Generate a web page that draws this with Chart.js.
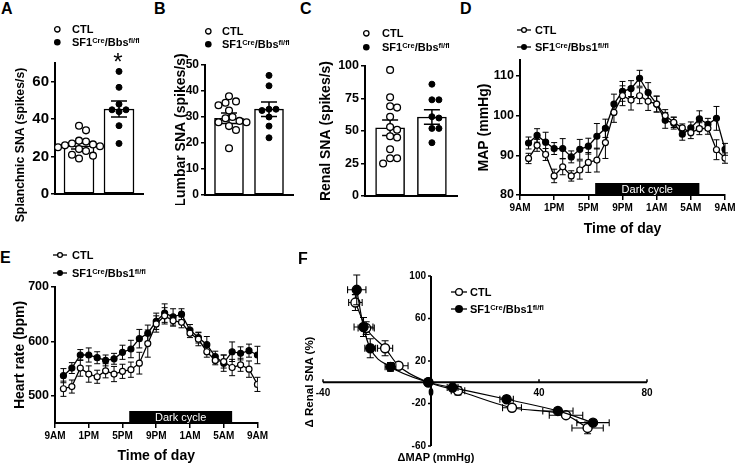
<!DOCTYPE html>
<html>
<head>
<meta charset="utf-8">
<script src="https://cdn.jsdelivr.net/npm/chart.js@4.4.0/dist/chart.umd.min.js"></script>
<style>
  body { margin: 0; background: #fff; }
  #fig { position: relative; width: 740px; height: 469px; overflow: hidden; background: #fff;
         font-family: "Liberation Sans", Arial, sans-serif; font-weight: bold; color: #000; }
  #fig canvas { position: absolute; }
  .pl { position: absolute; font-size: 16px; line-height: 1; }
  .yt { position: absolute; white-space: nowrap; line-height: 1; transform: translate(-50%, -50%) rotate(-90deg); }
  .xt { position: absolute; white-space: nowrap; line-height: 1; transform: translate(-50%, -50%); }
  .leg { position: absolute; white-space: nowrap; height: 14px; line-height: 14px; }
  .leg sup { font-size: 0.68em; vertical-align: 0; position: relative; top: -0.45em; }
  .sym { position: absolute; }
</style>
</head>
<body>
<div id="fig">
  <canvas id="cA" width="160" height="165" style="left:0px;top:40px"></canvas>
  <canvas id="cB" width="150" height="165" style="left:160px;top:40px"></canvas>
  <canvas id="cC" width="160" height="166" style="left:310px;top:40px"></canvas>
  <canvas id="cD" width="270" height="200" style="left:470px;top:40px"></canvas>
  <canvas id="cE" width="270" height="199" style="left:0px;top:270px"></canvas>
  <canvas id="cF" width="400" height="214" style="left:300px;top:255px"></canvas>

  <div class="pl" style="left:1px;top:1px">A</div>
  <div class="pl" style="left:154px;top:1px">B</div>
  <div class="pl" style="left:300px;top:1px">C</div>
  <div class="pl" style="left:460px;top:1px">D</div>
  <div class="pl" style="left:0px;top:250px">E</div>
  <div class="pl" style="left:298px;top:251px">F</div>

  <div class="yt" style="left:20px;top:145px;font-size:12.3px">Splanchnic SNA (spikes/s)</div>
  <div style="position:absolute;left:108px;top:50px;width:20px;text-align:center;font-size:24px;line-height:1;font-weight:normal">*</div>

  <div class="yt" style="left:310px;top:382px;font-size:11.5px">&Delta; Renal SNA (%)</div>
  <div class="xt" style="left:436px;top:457px;font-size:11px">&Delta;MAP (mmHg)</div>
</div>

<script>
// ---------- data ----------
const groupNames = ['CTL', 'SF1<sup>Cre</sup>/Bbs<sup>fl/fl</sup>'];
const lineNames = ['CTL', 'SF1<sup>Cre</sup>/Bbs1<sup>fl/fl</sup>'];

// A - splanchnic SNA (spikes/s)
const splanchnicCtl = [36.5, 34, 28.5, 28, 27, 26.5, 26, 25.5, 25, 24, 23, 21, 20.5, 19];
const splanchnicKo = [65.5, 57, 48, 45, 45, 44, 36.5, 27];
const splanchnicMean = [25.7, 45.4];
const splanchnicSem = [1.6, 4.3];
const splanchnicTicks = [0, 20, 40, 60];

// B - lumbar SNA (spikes/s)
const lumbarCtl = [38, 36, 35.5, 34.5, 32.5, 30, 29.5, 28.5, 28, 28, 26.5, 25, 18];
const lumbarKo = [46, 42, 33, 33, 32.5, 30, 26.5, 22];
const lumbarMean = [29.5, 33];
const lumbarSem = [2, 2.8];
const lumbarTicks = [0, 10, 20, 30, 40, 50];

// C - renal SNA (spikes/s)
const renalCtl = [97, 76, 69, 68, 61, 53, 51, 46, 45, 36, 29, 29, 25];
const renalKo = [86, 74, 74, 61, 60, 52, 52, 41];
const renalMean = [52.5, 60.8];
const renalSem = [6, 5.6];
const renalTicks = [0, 25, 50, 75, 100];

// D, E - hourly values, hours after 9AM
const hours = [1, 2, 3, 4, 5, 6, 7, 8, 9, 10, 11, 12, 13, 14, 15, 16, 17, 18, 19, 20, 21, 22, 23, 24];
const timeTicks = [0, 4, 8, 12, 16, 20, 24];
const timeLabels = ['9AM', '1PM', '5PM', '9PM', '1AM', '5AM', '9AM'];
const darkCycle = [8.8, 21];

const mapTicks = [80, 90, 100, 110];
const mapCtl = [89.2, 92.5, 90.2, 84.8, 87.1, 84.8, 86.3, 88.2, 88.8, 93.2, 100.8, 105, 103.9, 105, 103.6, 102.9, 100, 98.3, 96.9, 95.7, 96.7, 96.8, 91.4, 89.3];
const mapCtlSem = [1.3, 1.5, 1.5, 1.7, 2, 1.3, 2.3, 2.5, 3, 4, 2.5, 2.5, 2.5, 2, 2.3, 2, 1.5, 1.3, 1, 1.5, 1.5, 1.5, 2.5, 1.3];
const mapKo = [93.1, 95, 93.3, 91.7, 91.7, 89.6, 91.5, 92.3, 94.8, 96.8, 102.9, 106.1, 106.8, 109.4, 105.8, 102.9, 98.8, 98.1, 95.3, 96.9, 99.2, 97.8, 99.3, 91.5];
const mapKoSem = [1.5, 1.7, 2.5, 1.5, 2.5, 1.5, 2.5, 2, 3.2, 2.3, 2.5, 2.5, 2, 2, 2.5, 2, 2, 1.5, 1.5, 1.5, 2, 1.5, 3, 1.5];

const hrTicks = [500, 600, 700];
const hrCtl = [513, 517, 551, 540, 535, 546, 540, 545, 548, 560, 596, 632, 647, 638, 635, 615, 604, 581, 565, 563, 552, 557, 549, 521];
const hrCtlSem = [14, 12, 15, 15, 12, 13, 14, 13, 14, 20, 25, 15, 15, 10, 10, 8, 12, 10, 8, 12, 15, 12, 15, 13];
const hrKo = [537, 551, 575, 575, 570, 565, 568, 580, 586, 605, 615, 637, 652, 645, 650, 621, 607, 594, 572, 560, 581, 578, 583, 575];
const hrKoSem = [13, 10, 10, 13, 11, 10, 10, 13, 16, 17, 15, 15, 17, 15, 10, 10, 10, 15, 10, 15, 18, 12, 12, 16];

// F - baroreflex curve
const dmapTicks = [-40, 0, 40, 80];
const drsnaTicks = [-60, -20, 20, 60, 100];
const ctlDmap = [-28, -24, -17, -12, -1, 10, 30, 50, 58];
const ctlDmapSem = [2.5, 3, 2.8, 3.5, 1, 2.5, 3.5, 6.2, 5.8];
const ctlDrsna = [75, 51, 32, 15.5, 0, -8, -24, -31, -43];
const ctlDrsnaSem = [7.5, 6, 7, 3, 2, 4, 3, 2, 5.5];
const koDmap = [-27.5, -25, -22.5, -15, -1, 8, 28, 47, 60];
const koDmapSem = [3.4, 3.5, 2, 2, 1, 2, 2.5, 5.6, 6];
const koDrsna = [87, 52, 32, 14.5, 0, -5, -16, -27, -38];
const koDrsnaSem = [14, 9, 9, 4, 2, 3, 3, 2, 3];

// ---------- helpers ----------
const FONT = '"Liberation Sans", Arial, sans-serif';
Chart.defaults.font.family = FONT;
Chart.defaults.font.weight = 'bold';
Chart.defaults.color = '#000';
Chart.defaults.animation = false;
Chart.defaults.plugins.legend.display = false;
Chart.defaults.plugins.tooltip.enabled = false;

function drawErr(chart, i) {
  const ds = chart.data.datasets[i];
  if (!ds.errY && !ds.errX) return;
  const meta = chart.getDatasetMeta(i);
  const xs = chart.scales[meta.xAxisID], ys = chart.scales[meta.yAxisID];
  const c = chart.ctx, cap = ds.errCap || 3;
  c.save();
  c.strokeStyle = '#000';
  c.lineWidth = ds.errWidth || 1;
  c.beginPath();
  ds.data.forEach((d, j) => {
    const px = xs.getPixelForValue(d.x), py = ys.getPixelForValue(d.y);
    if (ds.errY) {
      const t = ys.getPixelForValue(d.y + ds.errY[j]), b = ys.getPixelForValue(d.y - ds.errY[j]);
      c.moveTo(px, t); c.lineTo(px, b);
      c.moveTo(px - cap, t); c.lineTo(px + cap, t);
      c.moveTo(px - cap, b); c.lineTo(px + cap, b);
    }
    if (ds.errX) {
      const l = xs.getPixelForValue(d.x - ds.errX[j]), r = xs.getPixelForValue(d.x + ds.errX[j]);
      c.moveTo(l, py); c.lineTo(r, py);
      c.moveTo(l, py - cap); c.lineTo(l, py + cap);
      c.moveTo(r, py - cap); c.lineTo(r, py + cap);
    }
  });
  c.stroke();
  c.restore();
}

const errorBars = {
  id: 'errorBars',
  beforeDatasetDraw(chart, args) {
    if (chart.data.datasets[args.index].type !== 'bar') drawErr(chart, args.index);
  },
  afterDatasetDraw(chart, args) {
    if (chart.data.datasets[args.index].type === 'bar') drawErr(chart, args.index);
  }
};

const darkBar = {
  id: 'darkBar',
  beforeDatasetsDraw(chart, args, o) {
    if (!o.range) return;
    const xs = chart.scales.x, ys = chart.scales.y, c = chart.ctx;
    const x0 = xs.getPixelForValue(o.range[0]), x1 = xs.getPixelForValue(o.range[1]);
    const h = 12, yb = ys.bottom;
    c.save();
    c.fillStyle = '#000';
    c.fillRect(x0, yb - h, x1 - x0, h);
    c.fillStyle = '#fff';
    c.font = '11px ' + FONT;
    c.textAlign = 'center';
    c.textBaseline = 'middle';
    c.fillText(o.label, (x0 + x1) / 2, yb - h / 2 + 0.5);
    c.restore();
  }
};

// axes crossing at the origin (panel F): lines and ticks under the data, labels on top
const crossAxes = {
  id: 'crossAxes',
  beforeDatasetsDraw(chart, args, o) {
    const xs = chart.scales.x, ys = chart.scales.y, c = chart.ctx;
    const x0 = xs.getPixelForValue(0), y0 = ys.getPixelForValue(0);
    c.save();
    c.strokeStyle = '#000';
    c.lineWidth = 2;
    c.beginPath();
    c.moveTo(xs.left, y0); c.lineTo(xs.right, y0);
    c.moveTo(x0, ys.top); c.lineTo(x0, ys.bottom);
    c.stroke();
    c.lineWidth = 1.5;
    c.beginPath();
    o.xTicks.forEach(v => { const p = xs.getPixelForValue(v); c.moveTo(p, y0); c.lineTo(p, y0 - 3); });
    o.yTicks.forEach(v => { const p = ys.getPixelForValue(v); c.moveTo(x0, p); c.lineTo(x0 - 3, p); });
    c.stroke();
    c.restore();
  },
  afterDraw(chart, args, o) {
    const xs = chart.scales.x, ys = chart.scales.y, c = chart.ctx;
    const x0 = xs.getPixelForValue(0), y0 = ys.getPixelForValue(0);
    c.save();
    c.fillStyle = '#000';
    c.font = 'bold 10px ' + FONT;
    c.textAlign = 'center';
    c.textBaseline = 'top';
    o.xTicks.forEach(v => c.fillText(String(v), xs.getPixelForValue(v), y0 + 6));
    c.textAlign = 'right';
    c.textBaseline = 'middle';
    o.yTicks.forEach(v => c.fillText(String(v), x0 - 5, ys.getPixelForValue(v)));
    c.restore();
  }
};

// simple dot-plot spreading so points do not overlap
function swarm(values, center, pxPerX, pxPerY) {
  const diam = 7, step = 3.5, placed = [];
  values.forEach(v => {
    let k = 0, off = 0;
    while (true) {
      off = k === 0 ? 0 : (k % 2 ? 1 : -1) * Math.ceil(k / 2) * step;
      const hit = placed.some(p => Math.hypot(off - p.off, (v - p.v) * pxPerY) < diam);
      if (!hit) break;
      k++;
    }
    placed.push({ v, off });
  });
  return placed.map(p => ({ x: center + p.off / pxPerX, y: p.v }));
}

const fixTicks = vals => s => { s.ticks = vals.map(v => ({ value: v })); };

function axisLines(tickLength) {
  return {
    border: { display: true, color: '#000', width: 2 },
    grid: { display: true, drawOnChartArea: false, drawTicks: true, tickLength: tickLength, color: '#000', lineWidth: 1.5 }
  };
}

function barPanel(id, ctl, ko, means, sems, ticks, g) {
  const pxPerX = g.plotW / 2.2, pxPerY = g.plotH / g.max;
  new Chart(document.getElementById(id), {
    type: 'bar',
    data: {
      datasets: [
        { type: 'scatter', data: swarm(ctl, 0, pxPerX, pxPerY), pointRadius: 3.4, pointBorderWidth: 1.3,
          pointBackgroundColor: '#fff', pointBorderColor: '#000', order: 0 },
        { type: 'scatter', data: swarm(ko, 1, pxPerX, pxPerY), pointRadius: 3, pointBorderWidth: 1,
          pointBackgroundColor: '#000', pointBorderColor: '#000', order: 1 },
        { type: 'bar', data: means.map((m, i) => ({ x: i, y: m })), errY: sems, errCap: 8, errWidth: 1.5,
          backgroundColor: '#fff', borderColor: '#000', borderWidth: 1.5, borderSkipped: false,
          barThickness: g.barW, order: 2 }
      ]
    },
    options: {
      responsive: false,
      maintainAspectRatio: false,
      layout: { autoPadding: false, padding: g.pad },
      scales: {
        x: { type: 'linear', min: -0.6, max: 1.6, offset: false,
             border: { display: true, color: '#000', width: 2 },
             grid: { display: false }, ticks: { display: false },
             afterFit: s => { s.height = g.xH; } },
        y: Object.assign(axisLines(4), {
             min: 0, max: g.max, bounds: 'data',
             afterBuildTicks: fixTicks(ticks),
             ticks: { autoSkip: false, padding: 2, font: { size: g.tick } },
             title: g.title ? { display: true, text: g.title, font: { size: 14 }, padding: { top: g.titlePad, bottom: 0 } } : { display: false },
             afterFit: s => { s.width = g.yW; } })
      }
    },
    plugins: [errorBars]
  });
}

function linePanel(id, ctl, ctlSem, ko, koSem, ticks, g) {
  const pts = arr => hours.map((h, i) => ({ x: h, y: arr[i] }));
  const style = fill => ({ borderColor: '#000', borderWidth: 1.3, pointRadius: 3, pointBorderWidth: 1.2,
    pointBorderColor: '#000', pointBackgroundColor: fill, errCap: 3, errWidth: 1 });
  new Chart(document.getElementById(id), {
    type: 'line',
    data: {
      datasets: [
        Object.assign({ data: pts(ctl), errY: ctlSem, order: 0 }, style('#fff')),
        Object.assign({ data: pts(ko), errY: koSem, order: 1 }, style('#000'))
      ]
    },
    options: {
      responsive: false,
      maintainAspectRatio: false,
      layout: { autoPadding: false, padding: g.pad },
      scales: {
        x: Object.assign(axisLines(5), {
             type: 'linear', min: 0, max: 24, bounds: 'data',
             afterBuildTicks: fixTicks(timeTicks),
             ticks: { autoSkip: false, maxRotation: 0, padding: 2, font: { size: 10 },
                      callback: (v, i) => timeLabels[i] },
             title: { display: true, text: 'Time of day', font: { size: 14 }, padding: { top: 0, bottom: g.xTitlePad } },
             afterFit: s => { s.height = g.xH; } }),
        y: Object.assign(axisLines(4), {
             min: g.min, max: g.max, bounds: 'data',
             afterBuildTicks: fixTicks(ticks),
             ticks: { autoSkip: false, padding: 2, font: { size: 12.5 } },
             title: { display: true, text: g.title, font: { size: 14 }, padding: { top: g.titlePad, bottom: 0 } },
             afterFit: s => { s.width = g.yW; } })
      },
      plugins: { darkBar: { range: darkCycle, label: 'Dark cycle' } }
    },
    plugins: [errorBars, darkBar]
  });
}

// ---------- panels ----------
barPanel('cA', splanchnicCtl, splanchnicKo, splanchnicMean, splanchnicSem, splanchnicTicks,
  { max: 70, tick: 15, yW: 55, xH: 10, plotW: 88, plotH: 132, barW: 30,
    pad: { top: 23, right: 17, bottom: 0, left: 0 } });
barPanel('cB', lumbarCtl, lumbarKo, lumbarMean, lumbarSem, lumbarTicks,
  { max: 50, tick: 12, yW: 45, xH: 10, plotW: 88, plotH: 130, barW: 29,
    title: 'Lumbar SNA (spikes/s)', titlePad: 12.6, pad: { top: 25, right: 17, bottom: 0, left: 0 } });
barPanel('cC', renalCtl, renalKo, renalMean, renalSem, renalTicks,
  { max: 100, tick: 12.5, yW: 55, xH: 10, plotW: 92, plotH: 130, barW: 29,
    title: 'Renal SNA (spikes/s)', titlePad: 7.6, pad: { top: 26, right: 13, bottom: 0, left: 0 } });

linePanel('cD', mapCtl, mapCtlSem, mapKo, mapKoSem, mapTicks,
  { min: 80, max: 114, yW: 50, xH: 45, title: 'MAP (mmHg)', titlePad: 5.6, xTitlePad: 2.6,
    pad: { top: 20, right: 15, bottom: 0, left: 0 } });
linePanel('cE', hrCtl, hrCtlSem, hrKo, hrKoSem, hrTicks,
  { min: 450, max: 700, yW: 55, xH: 46, title: 'Heart rate (bpm)', titlePad: 11.6, xTitlePad: 4.6,
    pad: { top: 17, right: 10, bottom: 0, left: 0 } });

const fPts = (xs, ys) => xs.map((x, i) => ({ x: x, y: ys[i] }));
new Chart(document.getElementById('cF'), {
  type: 'scatter',
  data: {
    datasets: [
      { data: fPts(ctlDmap, ctlDrsna), errX: ctlDmapSem, errY: ctlDrsnaSem, showLine: true, fill: false,
        cubicInterpolationMode: 'monotone', borderColor: '#000', borderWidth: 1.2,
        pointRadius: 4.5, pointBorderWidth: 1.4, pointBorderColor: '#000', pointBackgroundColor: '#fff',
        errCap: 3.5, errWidth: 1.1, order: 1 },
      { data: fPts(koDmap, koDrsna), errX: koDmapSem, errY: koDrsnaSem, showLine: true, fill: false,
        cubicInterpolationMode: 'monotone', borderColor: '#000', borderWidth: 1.2,
        pointRadius: 4.5, pointBorderWidth: 1.4, pointBorderColor: '#000', pointBackgroundColor: '#000',
        errCap: 3.5, errWidth: 1.1, order: 0 }
    ]
  },
  options: {
    responsive: false,
    maintainAspectRatio: false,
    layout: { autoPadding: false, padding: { left: 23, right: 53, top: 21, bottom: 23 } },
    scales: {
      x: { type: 'linear', display: false, min: -40, max: 80, bounds: 'data' },
      y: { type: 'linear', display: false, min: -60, max: 100, bounds: 'data' }
    },
    plugins: { crossAxes: { xTicks: dmapTicks, yTicks: drsnaTicks } }
  },
  plugins: [crossAxes, errorBars]
});

// ---------- legends (html text) ----------
const fig = document.getElementById('fig');
function legend(cx, ys, textLeft, size, names, withLine, r, lineHalf) {
  names.forEach((name, i) => {
    const filled = i === 1;
    const w = 2 * (lineHalf || r) + 4, h = 2 * r + 4;
    const svg = document.createElementNS('http://www.w3.org/2000/svg', 'svg');
    svg.setAttribute('width', w); svg.setAttribute('height', h);
    svg.setAttribute('class', 'sym');
    svg.style.left = (cx - w / 2) + 'px';
    svg.style.top = (ys[i] - h / 2) + 'px';
    let inner = '';
    if (withLine) inner += `<line x1="2" y1="${h / 2}" x2="${w - 2}" y2="${h / 2}" stroke="#000" stroke-width="1.3"/>`;
    inner += `<circle cx="${w / 2}" cy="${h / 2}" r="${filled ? r : r - 0.6}" fill="${filled ? '#000' : '#fff'}" stroke="#000" stroke-width="${filled ? 0 : 1.3}"/>`;
    svg.innerHTML = inner;
    fig.appendChild(svg);
    const t = document.createElement('div');
    t.className = 'leg';
    t.style.left = textLeft + 'px';
    t.style.top = (ys[i] - 7) + 'px';
    t.style.fontSize = size + 'px';
    t.innerHTML = name;
    fig.appendChild(t);
  });
}
legend(57, [29, 42], 72, 11, groupNames, false, 3.3);
legend(208, [31, 44], 222, 11, groupNames, false, 3.3);
legend(366, [33, 47], 382, 11, groupNames, false, 3.3);
legend(523.5, [30, 47], 535, 11, lineNames, true, 3, 7);
legend(60, [255, 273], 72, 11, lineNames, true, 3, 7);
legend(459, [292, 309], 470, 11, lineNames, true, 4, 8);
</script>
</body>
</html>
